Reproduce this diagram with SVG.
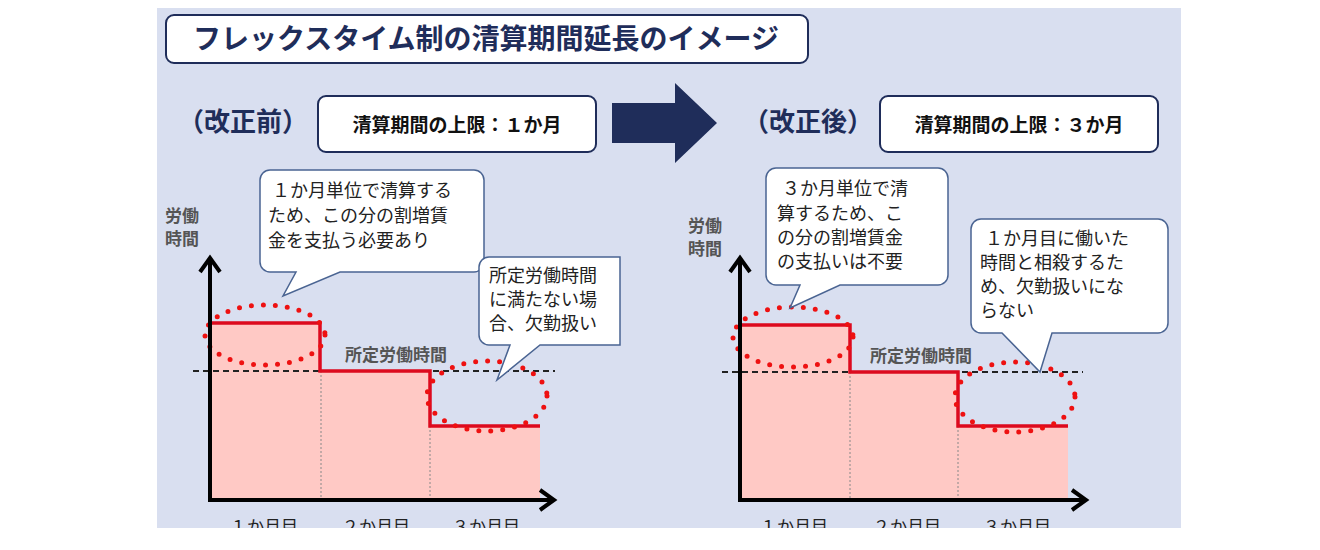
<svg xmlns="http://www.w3.org/2000/svg" width="1320" height="550" viewBox="0 0 1320 550">
<defs>
<style>
text{font-family:"Noto Sans CJK JP","Noto Sans CJK SC",sans-serif;}
.bx{fill:#fff;stroke:#1f2d5a;stroke-width:2}
.bub{fill:#fff;stroke:#4a6492;stroke-width:1.5}
.lb{font-size:26px;font-weight:bold;fill:#1f2d5a}
.bt{font-size:19px;font-weight:bold;fill:#111}
.t{font-size:18px;fill:#222}
.m{font-size:17px;fill:#222}
.ax{font-size:17px;font-weight:bold;fill:#555}
.fill{fill:#ffc9c5}
.step{fill:none;stroke:#dd0a1e;stroke-width:3.5}
.dash{stroke:#222;stroke-width:2;stroke-dasharray:6,4}
.dot{stroke:#888;stroke-width:1;stroke-dasharray:2,2}
.ell{fill:none;stroke:#ee1111;stroke-width:5;stroke-linecap:round;stroke-dasharray:0,12}
.axis{stroke:#000;stroke-width:4;fill:none}
</style>
<clipPath id="c"><rect x="157" y="8" width="1024" height="520"/></clipPath>
</defs>
<rect x="157" y="8" width="1024" height="520" fill="#d9dff0"/>
<g id="title"><rect class="bx" x="166" y="15" width="642" height="48" rx="8"/><text x="486" y="49" text-anchor="middle" font-size="28" font-weight="bold" fill="#1f2d5a">フレックスタイム制の清算期間延長のイメージ</text></g>
<g id="before-label"><text class="lb" x="178" y="131">（改正前）</text></g>
<g id="before-box"><rect class="bx" x="318" y="96" width="278" height="56" rx="8"/><text class="bt" x="457" y="132" text-anchor="middle">清算期間の上限：１か月</text></g>
<g id="after-label"><text class="lb" x="743" y="131">（改正後）</text></g>
<g id="after-box"><rect class="bx" x="880" y="96" width="278" height="56" rx="8"/><text class="bt" x="1019" y="132" text-anchor="middle">清算期間の上限：３か月</text></g>
<g id="arrow"><polygon points="612,103 675,103 675,83 717,123 675,163 675,143 612,143" fill="#1f2d5a"/></g>
<g clip-path="url(#c)">
<g id="chart-before">
<path class="fill" d="M210,323H320V371H430V426H540V500H210Z"/>
<line class="dot" x1="321" y1="371" x2="321" y2="500"/><line class="dot" x1="430" y1="426" x2="430" y2="500"/>
<line class="dash" x1="193" y1="371" x2="555" y2="371"/>
<path class="step" d="M210,323H320V371H430V426H540"/>
<ellipse class="ell" cx="265" cy="335" rx="60" ry="30"/>
<ellipse class="ell" cx="487" cy="396" rx="60" ry="35"/>
<path class="axis" d="M210,500V260M200,272L210,258L220,272M208,500H553M540,490L554,500L540,510"/>
<text class="ax" x="165" y="222">労働</text><text class="ax" x="165" y="245">時間</text>
<text class="ax" x="345" y="361">所定労働時間</text>
<text class="m" x="230" y="533">１か月目</text><text class="m" x="342" y="533">２か月目</text><text class="m" x="452" y="533">３か月目</text>
</g>
<g id="bubble-before-1"><path class="bub" d="M270,170H474A10,10 0 0 1 484,180V262A10,10 0 0 1 474,272H340L283,296L296,272H270A10,10 0 0 1 260,262V180A10,10 0 0 1 270,170Z"/>
<text class="t" x="272" y="197">１か月単位で清算する</text><text class="t" x="268" y="222">ため、この分の割増賃</text><text class="t" x="268" y="247">金を支払う必要あり</text></g>
<g id="bubble-before-2"><path class="bub" d="M489,257H620V345H540L497,380L510,345H489A10,10 0 0 1 479,335V267A10,10 0 0 1 489,257Z"/>
<text class="t" x="489" y="282">所定労働時間</text><text class="t" x="489" y="306">に満たない場</text><text class="t" x="489" y="330">合、欠勤扱い</text></g>
<g id="chart-after">
<path class="fill" d="M740,325H850V372H958V426H1068V500H740Z"/>
<line class="dot" x1="850" y1="372" x2="850" y2="500"/><line class="dot" x1="958" y1="426" x2="958" y2="500"/>
<line class="dash" x1="722" y1="372" x2="1083" y2="372"/>
<path class="step" d="M740,325H850V372H958V426H1068"/>
<ellipse class="ell" cx="793" cy="337" rx="60" ry="30"/>
<ellipse class="ell" cx="1015" cy="397" rx="60" ry="35"/>
<path class="axis" d="M740,500V260M730,272L740,258L750,272M738,500H1085M1072,490L1086,500L1072,510"/>
<text class="ax" x="688" y="232">労働</text><text class="ax" x="688" y="255">時間</text>
<text class="ax" x="870" y="362">所定労働時間</text>
<text class="m" x="760" y="533">１か月目</text><text class="m" x="873" y="533">２か月目</text><text class="m" x="983" y="533">３か月目</text>
</g>
<g id="bubble-after-1"><path class="bub" d="M776,168H938A10,10 0 0 1 948,178V275A10,10 0 0 1 938,285H840L790,308L800,285H776A10,10 0 0 1 766,275V178A10,10 0 0 1 776,168Z"/>
<text class="t" x="782" y="195">３か月単位で清</text><text class="t" x="777" y="220">算するため、こ</text><text class="t" x="777" y="244">の分の割増賃金</text><text class="t" x="777" y="268">の支払いは不要</text></g>
<g id="bubble-after-2"><path class="bub" d="M981,219H1158A10,10 0 0 1 1168,229V323A10,10 0 0 1 1158,333H1052L1040,372L1002,333H981A10,10 0 0 1 971,323V229A10,10 0 0 1 981,219Z"/>
<text class="t" x="985" y="245">１か月目に働いた</text><text class="t" x="980" y="269">時間と相殺するた</text><text class="t" x="980" y="293">め、欠勤扱いにな</text><text class="t" x="980" y="317">らない</text></g>
</g>
</svg>
